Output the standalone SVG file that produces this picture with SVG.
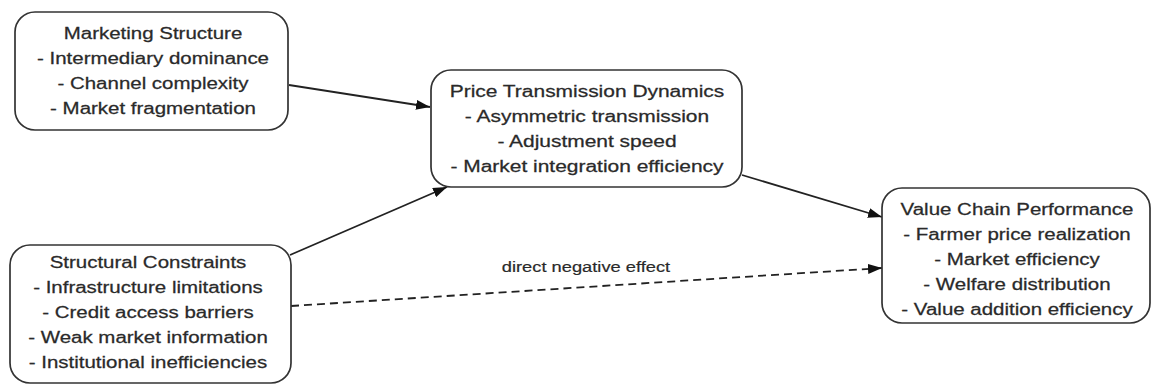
<svg xmlns="http://www.w3.org/2000/svg" width="1153" height="387" viewBox="0 0 1153 387">
  <style>
    .box { fill: #ffffff; stroke: #333333; stroke-width: 1.7; }
    .lbl { font-family: "Liberation Sans", Arial, sans-serif; font-size: 16px; fill: #2a2a2a; stroke: #2a2a2a; stroke-width: 0.25; text-anchor: middle; }
    .edge { fill: none; stroke: #222222; stroke-width: 1.8; }
    .dash { stroke-dasharray: 8 5; }
    .elbl { font-family: "Liberation Sans", Arial, sans-serif; font-size: 15px; fill: #2a2a2a; stroke: #2a2a2a; stroke-width: 0.2; text-anchor: middle; }
  </style>
  <defs>
    <marker id="arrow" viewBox="0 0 14 10" refX="14" refY="5" markerWidth="14" markerHeight="10" markerUnits="userSpaceOnUse" orient="auto">
      <path d="M0,0 L14,5 L0,10 z" fill="#111111"/>
    </marker>
  </defs>
  <rect width="1153" height="387" fill="#ffffff"/>

  <!-- connectors -->
  <g id="connectors">
    <line class="edge" x1="289" y1="85" x2="430" y2="107" marker-end="url(#arrow)"/>
    <line class="edge" x1="290" y1="255" x2="447" y2="187" marker-end="url(#arrow)"/>
    <line class="edge" x1="742" y1="175" x2="882" y2="217" marker-end="url(#arrow)"/>
    <line class="edge dash" x1="291" y1="306" x2="882" y2="268" marker-end="url(#arrow)"/>
    <g transform="translate(586 0) scale(1.22 1)">
      <text class="elbl" x="0" y="272">direct negative effect</text>
    </g>
  </g>

  <!-- Marketing Structure -->
  <g id="marketing-structure">
    <rect class="box" x="15" y="12" width="273" height="118" rx="20" ry="20"/>
    <g transform="translate(153 0) scale(1.28 1)">
      <text class="lbl" x="0" y="39">Marketing Structure</text>
      <text class="lbl" x="0" y="64">- Intermediary dominance</text>
      <text class="lbl" x="0" y="89">- Channel complexity</text>
      <text class="lbl" x="0" y="114">- Market fragmentation</text>
    </g>
  </g>

  <!-- Price Transmission Dynamics -->
  <g id="price-transmission">
    <rect class="box" x="431" y="70" width="311" height="117" rx="20" ry="20"/>
    <g transform="translate(587 0) scale(1.31 1)">
      <text class="lbl" x="0" y="97">Price Transmission Dynamics</text>
      <text class="lbl" x="0" y="122">- Asymmetric transmission</text>
      <text class="lbl" x="0" y="147">- Adjustment speed</text>
      <text class="lbl" x="0" y="172">- Market integration efficiency</text>
    </g>
  </g>

  <!-- Value Chain Performance -->
  <g id="value-chain">
    <rect class="box" x="882" y="188" width="268" height="135" rx="20" ry="20"/>
    <g transform="translate(1017 0) scale(1.28 1)">
      <text class="lbl" x="0" y="215">Value Chain Performance</text>
      <text class="lbl" x="0" y="240">- Farmer price realization</text>
      <text class="lbl" x="0" y="265">- Market efficiency</text>
      <text class="lbl" x="0" y="290">- Welfare distribution</text>
      <text class="lbl" x="0" y="315">- Value addition efficiency</text>
    </g>
  </g>

  <!-- Structural Constraints -->
  <g id="structural-constraints">
    <rect class="box" x="10" y="245" width="281" height="138" rx="20" ry="20"/>
    <g transform="translate(148 0) scale(1.28 1)">
      <text class="lbl" x="0" y="268">Structural Constraints</text>
      <text class="lbl" x="0" y="293">- Infrastructure limitations</text>
      <text class="lbl" x="0" y="318">- Credit access barriers</text>
      <text class="lbl" x="0" y="343">- Weak market information</text>
      <text class="lbl" x="0" y="368">- Institutional inefficiencies</text>
    </g>
  </g>
</svg>
